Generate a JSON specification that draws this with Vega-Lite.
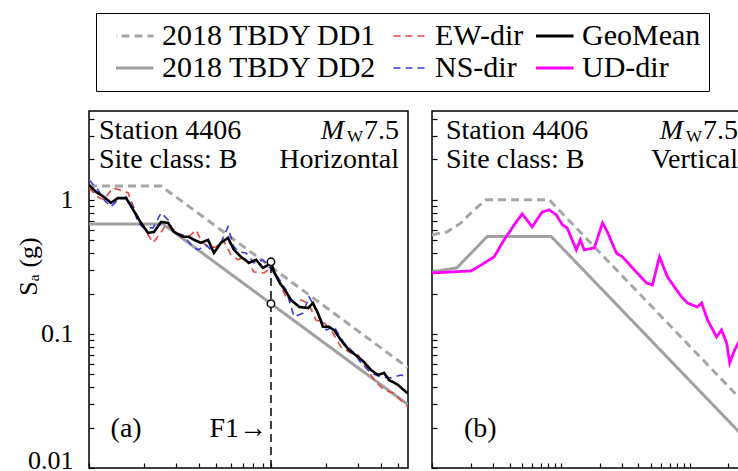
{
"$schema": "https://vega.github.io/schema/vega-lite/v6.json",
"padding": {"left": 14, "top": 12, "right": 0, "bottom": 0},
"background": "white",
"spacing": 21,
"config": {
 "font": "Liberation Serif",
 "view": {"stroke": "black", "strokeWidth": 1.5},
 "axis": {"domain": false, "grid": false, "tickColor": "black", "tickWidth": 1.2, "tickSize": -5, "labelFont": "Liberation Serif", "labelFontSize": 26, "labelColor": "black", "titleFont": "Liberation Serif", "titleFontSize": 26, "titleFontWeight": "normal", "titleColor": "black"},
 "legend": {"orient": "none", "legendX": 7, "legendY": -98, "columns": 3, "direction": "horizontal", "titleOrient": "left", "titleFontSize": 4, "titlePadding": 12, "labelFont": "Liberation Serif", "labelFontSize": 30, "labelColor": "black", "labelLimit": 400, "symbolType": "stroke", "symbolSize": 2025, "clipHeight": 30, "labelOffset": 16, "columnPadding": 12, "rowPadding": 2, "padding": 8, "strokeColor": "black", "fillColor": "white", "cornerRadius": 0}
},
"datasets": {
 "spectra": [
  {"panel":"H","series":"2018 TBDY DD1","T":0.1,"Sa":1.27},
  {"panel":"H","series":"2018 TBDY DD1","T":0.249,"Sa":1.27},
  {"panel":"H","series":"2018 TBDY DD1","T":5.66,"Sa":0.0559},
  {"panel":"H","series":"2018 TBDY DD2","T":0.1,"Sa":0.66},
  {"panel":"H","series":"2018 TBDY DD2","T":0.255,"Sa":0.66},
  {"panel":"H","series":"2018 TBDY DD2","T":5.66,"Sa":0.0297},
  {"panel":"H","series":"EW-dir","T":0.100,"Sa":1.23},
  {"panel":"H","series":"EW-dir","T":0.112,"Sa":1.05},
  {"panel":"H","series":"EW-dir","T":0.121,"Sa":1.00},
  {"panel":"H","series":"EW-dir","T":0.135,"Sa":1.23},
  {"panel":"H","series":"EW-dir","T":0.146,"Sa":1.19},
  {"panel":"H","series":"EW-dir","T":0.164,"Sa":1.13},
  {"panel":"H","series":"EW-dir","T":0.181,"Sa":0.800},
  {"panel":"H","series":"EW-dir","T":0.200,"Sa":0.618},
  {"panel":"H","series":"EW-dir","T":0.225,"Sa":0.478},
  {"panel":"H","series":"EW-dir","T":0.243,"Sa":0.548},
  {"panel":"H","series":"EW-dir","T":0.265,"Sa":0.651},
  {"panel":"H","series":"EW-dir","T":0.293,"Sa":0.597},
  {"panel":"H","series":"EW-dir","T":0.328,"Sa":0.520},
  {"panel":"H","series":"EW-dir","T":0.363,"Sa":0.548},
  {"panel":"H","series":"EW-dir","T":0.387,"Sa":0.597},
  {"panel":"H","series":"EW-dir","T":0.412,"Sa":0.503},
  {"panel":"H","series":"EW-dir","T":0.451,"Sa":0.438},
  {"panel":"H","series":"EW-dir","T":0.499,"Sa":0.446},
  {"panel":"H","series":"EW-dir","T":0.545,"Sa":0.503},
  {"panel":"H","series":"EW-dir","T":0.603,"Sa":0.389},
  {"panel":"H","series":"EW-dir","T":0.659,"Sa":0.357},
  {"panel":"H","series":"EW-dir","T":0.711,"Sa":0.376},
  {"panel":"H","series":"EW-dir","T":0.807,"Sa":0.290},
  {"panel":"H","series":"EW-dir","T":0.916,"Sa":0.285},
  {"panel":"H","series":"EW-dir","T":1.00,"Sa":0.311},
  {"panel":"H","series":"EW-dir","T":1.09,"Sa":0.253},
  {"panel":"H","series":"EW-dir","T":1.21,"Sa":0.189},
  {"panel":"H","series":"EW-dir","T":1.34,"Sa":0.170},
  {"panel":"H","series":"EW-dir","T":1.46,"Sa":0.179},
  {"panel":"H","series":"EW-dir","T":1.60,"Sa":0.170},
  {"panel":"H","series":"EW-dir","T":1.77,"Sa":0.127},
  {"panel":"H","series":"EW-dir","T":1.96,"Sa":0.121},
  {"panel":"H","series":"EW-dir","T":2.14,"Sa":0.107},
  {"panel":"H","series":"EW-dir","T":2.42,"Sa":0.080},
  {"panel":"H","series":"EW-dir","T":2.75,"Sa":0.0722},
  {"panel":"H","series":"EW-dir","T":3.01,"Sa":0.0697},
  {"panel":"H","series":"EW-dir","T":3.33,"Sa":0.0567},
  {"panel":"H","series":"EW-dir","T":3.68,"Sa":0.0454},
  {"panel":"H","series":"EW-dir","T":4.18,"Sa":0.0382},
  {"panel":"H","series":"EW-dir","T":4.68,"Sa":0.0363},
  {"panel":"H","series":"EW-dir","T":5.52,"Sa":0.0295},
  {"panel":"H","series":"EW-dir","T":5.66,"Sa":0.0285},
  {"panel":"H","series":"NS-dir","T":0.100,"Sa":1.41},
  {"panel":"H","series":"NS-dir","T":0.112,"Sa":1.19},
  {"panel":"H","series":"NS-dir","T":0.121,"Sa":1.00},
  {"panel":"H","series":"NS-dir","T":0.132,"Sa":0.887},
  {"panel":"H","series":"NS-dir","T":0.144,"Sa":1.00},
  {"panel":"H","series":"NS-dir","T":0.160,"Sa":1.05},
  {"panel":"H","series":"NS-dir","T":0.175,"Sa":0.887},
  {"panel":"H","series":"NS-dir","T":0.186,"Sa":0.673},
  {"panel":"H","series":"NS-dir","T":0.200,"Sa":0.618},
  {"panel":"H","series":"NS-dir","T":0.225,"Sa":0.618},
  {"panel":"H","series":"NS-dir","T":0.249,"Sa":0.800},
  {"panel":"H","series":"NS-dir","T":0.272,"Sa":0.709},
  {"panel":"H","series":"NS-dir","T":0.293,"Sa":0.567},
  {"panel":"H","series":"NS-dir","T":0.328,"Sa":0.548},
  {"panel":"H","series":"NS-dir","T":0.373,"Sa":0.446},
  {"panel":"H","series":"NS-dir","T":0.397,"Sa":0.424},
  {"panel":"H","series":"NS-dir","T":0.440,"Sa":0.462},
  {"panel":"H","series":"NS-dir","T":0.486,"Sa":0.402},
  {"panel":"H","series":"NS-dir","T":0.531,"Sa":0.478},
  {"panel":"H","series":"NS-dir","T":0.580,"Sa":0.629},
  {"panel":"H","series":"NS-dir","T":0.626,"Sa":0.446},
  {"panel":"H","series":"NS-dir","T":0.667,"Sa":0.409},
  {"panel":"H","series":"NS-dir","T":0.729,"Sa":0.402},
  {"panel":"H","series":"NS-dir","T":0.807,"Sa":0.339},
  {"panel":"H","series":"NS-dir","T":0.904,"Sa":0.357},
  {"panel":"H","series":"NS-dir","T":0.975,"Sa":0.316},
  {"panel":"H","series":"NS-dir","T":1.09,"Sa":0.266},
  {"panel":"H","series":"NS-dir","T":1.21,"Sa":0.213},
  {"panel":"H","series":"NS-dir","T":1.34,"Sa":0.134},
  {"panel":"H","series":"NS-dir","T":1.50,"Sa":0.143},
  {"panel":"H","series":"NS-dir","T":1.62,"Sa":0.189},
  {"panel":"H","series":"NS-dir","T":1.81,"Sa":0.143},
  {"panel":"H","series":"NS-dir","T":2.01,"Sa":0.107},
  {"panel":"H","series":"NS-dir","T":2.22,"Sa":0.113},
  {"panel":"H","series":"NS-dir","T":2.52,"Sa":0.0857},
  {"panel":"H","series":"NS-dir","T":2.86,"Sa":0.0722},
  {"panel":"H","series":"NS-dir","T":3.12,"Sa":0.0608},
  {"panel":"H","series":"NS-dir","T":3.54,"Sa":0.0512},
  {"panel":"H","series":"NS-dir","T":4.02,"Sa":0.0478},
  {"panel":"H","series":"NS-dir","T":4.57,"Sa":0.0470},
  {"panel":"H","series":"NS-dir","T":5.18,"Sa":0.0494},
  {"panel":"H","series":"NS-dir","T":5.66,"Sa":0.0478},
  {"panel":"H","series":"GeoMean","T":0.100,"Sa":1.29},
  {"panel":"H","series":"GeoMean","T":0.109,"Sa":1.15},
  {"panel":"H","series":"GeoMean","T":0.121,"Sa":1.05},
  {"panel":"H","series":"GeoMean","T":0.132,"Sa":0.950},
  {"panel":"H","series":"GeoMean","T":0.144,"Sa":1.03},
  {"panel":"H","series":"GeoMean","T":0.160,"Sa":1.03},
  {"panel":"H","series":"GeoMean","T":0.175,"Sa":0.842},
  {"panel":"H","series":"GeoMean","T":0.193,"Sa":0.673},
  {"panel":"H","series":"GeoMean","T":0.211,"Sa":0.567},
  {"panel":"H","series":"GeoMean","T":0.228,"Sa":0.577},
  {"panel":"H","series":"GeoMean","T":0.249,"Sa":0.685},
  {"panel":"H","series":"GeoMean","T":0.272,"Sa":0.673},
  {"panel":"H","series":"GeoMean","T":0.293,"Sa":0.577},
  {"panel":"H","series":"GeoMean","T":0.328,"Sa":0.530},
  {"panel":"H","series":"GeoMean","T":0.354,"Sa":0.530},
  {"panel":"H","series":"GeoMean","T":0.378,"Sa":0.503},
  {"panel":"H","series":"GeoMean","T":0.412,"Sa":0.478},
  {"panel":"H","series":"GeoMean","T":0.451,"Sa":0.503},
  {"panel":"H","series":"GeoMean","T":0.486,"Sa":0.402},
  {"panel":"H","series":"GeoMean","T":0.531,"Sa":0.478},
  {"panel":"H","series":"GeoMean","T":0.580,"Sa":0.520},
  {"panel":"H","series":"GeoMean","T":0.626,"Sa":0.424},
  {"panel":"H","series":"GeoMean","T":0.684,"Sa":0.376},
  {"panel":"H","series":"GeoMean","T":0.757,"Sa":0.339},
  {"panel":"H","series":"GeoMean","T":0.828,"Sa":0.357},
  {"panel":"H","series":"GeoMean","T":0.904,"Sa":0.311},
  {"panel":"H","series":"GeoMean","T":0.963,"Sa":0.327},
  {"panel":"H","series":"GeoMean","T":1.00,"Sa":0.345},
  {"panel":"H","series":"GeoMean","T":1.04,"Sa":0.290},
  {"panel":"H","series":"GeoMean","T":1.11,"Sa":0.244},
  {"panel":"H","series":"GeoMean","T":1.21,"Sa":0.206},
  {"panel":"H","series":"GeoMean","T":1.29,"Sa":0.179},
  {"panel":"H","series":"GeoMean","T":1.43,"Sa":0.159},
  {"panel":"H","series":"GeoMean","T":1.60,"Sa":0.156},
  {"panel":"H","series":"GeoMean","T":1.70,"Sa":0.170},
  {"panel":"H","series":"GeoMean","T":1.81,"Sa":0.143},
  {"panel":"H","series":"GeoMean","T":1.93,"Sa":0.113},
  {"panel":"H","series":"GeoMean","T":2.08,"Sa":0.113},
  {"panel":"H","series":"GeoMean","T":2.22,"Sa":0.107},
  {"panel":"H","series":"GeoMean","T":2.42,"Sa":0.090},
  {"panel":"H","series":"GeoMean","T":2.68,"Sa":0.076},
  {"panel":"H","series":"GeoMean","T":3.01,"Sa":0.0673},
  {"panel":"H","series":"GeoMean","T":3.24,"Sa":0.0618},
  {"panel":"H","series":"GeoMean","T":3.54,"Sa":0.0539},
  {"panel":"H","series":"GeoMean","T":3.87,"Sa":0.0494},
  {"panel":"H","series":"GeoMean","T":4.18,"Sa":0.0512},
  {"panel":"H","series":"GeoMean","T":4.45,"Sa":0.0454},
  {"panel":"H","series":"GeoMean","T":4.99,"Sa":0.0416},
  {"panel":"H","series":"GeoMean","T":5.52,"Sa":0.0369},
  {"panel":"H","series":"GeoMean","T":5.66,"Sa":0.0360},
  {"panel":"V","series":"2018 TBDY DD1","T":0.01,"Sa":0.548},
  {"panel":"V","series":"2018 TBDY DD1","T":0.0131,"Sa":0.577},
  {"panel":"V","series":"2018 TBDY DD1","T":0.0168,"Sa":0.673},
  {"panel":"V","series":"2018 TBDY DD1","T":0.0212,"Sa":0.842},
  {"panel":"V","series":"2018 TBDY DD1","T":0.0263,"Sa":1.0},
  {"panel":"V","series":"2018 TBDY DD1","T":0.0814,"Sa":1.0},
  {"panel":"V","series":"2018 TBDY DD1","T":3.0,"Sa":0.0271},
  {"panel":"V","series":"2018 TBDY DD2","T":0.01,"Sa":0.29},
  {"panel":"V","series":"2018 TBDY DD2","T":0.0156,"Sa":0.311},
  {"panel":"V","series":"2018 TBDY DD2","T":0.0268,"Sa":0.532},
  {"panel":"V","series":"2018 TBDY DD2","T":0.0844,"Sa":0.532},
  {"panel":"V","series":"2018 TBDY DD2","T":3.0,"Sa":0.0150},
  {"panel":"V","series":"UD-dir","T":0.0100,"Sa":0.285},
  {"panel":"V","series":"UD-dir","T":0.0201,"Sa":0.295},
  {"panel":"V","series":"UD-dir","T":0.0241,"Sa":0.327},
  {"panel":"V","series":"UD-dir","T":0.0304,"Sa":0.376},
  {"panel":"V","series":"UD-dir","T":0.0363,"Sa":0.503},
  {"panel":"V","series":"UD-dir","T":0.0435,"Sa":0.651},
  {"panel":"V","series":"UD-dir","T":0.0501,"Sa":0.786},
  {"panel":"V","series":"UD-dir","T":0.0600,"Sa":0.629},
  {"panel":"V","series":"UD-dir","T":0.0718,"Sa":0.814},
  {"panel":"V","series":"UD-dir","T":0.0814,"Sa":0.842},
  {"panel":"V","series":"UD-dir","T":0.0923,"Sa":0.773},
  {"panel":"V","series":"UD-dir","T":0.103,"Sa":0.651},
  {"panel":"V","series":"UD-dir","T":0.112,"Sa":0.618},
  {"panel":"V","series":"UD-dir","T":0.132,"Sa":0.424},
  {"panel":"V","series":"UD-dir","T":0.142,"Sa":0.503},
  {"panel":"V","series":"UD-dir","T":0.152,"Sa":0.424},
  {"panel":"V","series":"UD-dir","T":0.182,"Sa":0.438},
  {"panel":"V","series":"UD-dir","T":0.211,"Sa":0.673},
  {"panel":"V","series":"UD-dir","T":0.230,"Sa":0.577},
  {"panel":"V","series":"UD-dir","T":0.270,"Sa":0.402},
  {"panel":"V","series":"UD-dir","T":0.301,"Sa":0.376},
  {"panel":"V","series":"UD-dir","T":0.373,"Sa":0.300},
  {"panel":"V","series":"UD-dir","T":0.463,"Sa":0.240},
  {"panel":"V","series":"UD-dir","T":0.515,"Sa":0.232},
  {"panel":"V","series":"UD-dir","T":0.584,"Sa":0.376},
  {"panel":"V","series":"UD-dir","T":0.674,"Sa":0.266},
  {"panel":"V","series":"UD-dir","T":0.764,"Sa":0.224},
  {"panel":"V","series":"UD-dir","T":0.866,"Sa":0.189},
  {"panel":"V","series":"UD-dir","T":0.964,"Sa":0.170},
  {"panel":"V","series":"UD-dir","T":1.15,"Sa":0.159},
  {"panel":"V","series":"UD-dir","T":1.24,"Sa":0.170},
  {"panel":"V","series":"UD-dir","T":1.38,"Sa":0.127},
  {"panel":"V","series":"UD-dir","T":1.62,"Sa":0.095},
  {"panel":"V","series":"UD-dir","T":1.77,"Sa":0.107},
  {"panel":"V","series":"UD-dir","T":1.94,"Sa":0.0857},
  {"panel":"V","series":"UD-dir","T":2.05,"Sa":0.0608},
  {"panel":"V","series":"UD-dir","T":2.24,"Sa":0.076},
  {"panel":"V","series":"UD-dir","T":2.58,"Sa":0.098}
 ]
},
"hconcat": [
 {
  "width": 319, "height": 357,
  "layer": [
   {
    "data": {"name": "spectra"},
    "transform": [{"filter": "datum.panel == 'H' && indexof(datum.series, 'TBDY') >= 0"}],
    "mark": {"type": "line", "clip": true, "strokeWidth": 3},
    "encoding": {
     "x": {"field": "T", "type": "quantitative", "scale": {"type": "log", "domain": [0.1, 5.66], "nice": false}, "axis": {"values": [0.1,0.2,0.3,0.4,0.5,0.6,0.7,0.8,0.9,1,2,3,4,5], "labels": false, "title": null}},
     "y": {"field": "Sa", "type": "quantitative", "scale": {"type": "log", "domain": [0.01, 4.6], "nice": false}, "axis": {"values": [0.01,0.02,0.03,0.04,0.05,0.06,0.07,0.08,0.09,0.1,0.2,0.3,0.4,0.5,0.6,0.7,0.8,0.9,1,2,3,4], "labelExpr": "datum.value == 1 ? '1' : datum.value == 0.1 ? '0.1' : datum.value == 0.01 ? '0.01' : ''", "labelFont": "Liberation Serif", "labelFontSize": 26, "labelBaseline": {"condition": {"test": "datum.value == 0.01", "value": "alphabetic"}, "value": "middle"}, "labelPadding": 21, "title": "Sₐ (g)", "titleFont": "Liberation Serif", "titleX": -61, "titleY": 155, "titleAngle": -90, "titleBaseline": "middle", "titleAlign": "center"}},
     "color": {"field": "series", "type": "nominal", "title": " ", "scale": {"domain": ["2018 TBDY DD1","EW-dir","GeoMean","2018 TBDY DD2","NS-dir","UD-dir"], "range": ["#a6a6a6","#e8463c","#000000","#a0a0a0","#3c3ce6","#ff00ff"]}, "legend": {"encode": {"symbols": {"update": {"strokeWidth": {"signal": "datum.value == 'EW-dir' || datum.value == 'NS-dir' ? 1.6 : 3.2"}}}}}},
     "strokeDash": {"field": "series", "type": "nominal", "title": " ", "scale": {"domain": ["2018 TBDY DD1","EW-dir","GeoMean","2018 TBDY DD2","NS-dir","UD-dir"], "range": [[8,5],[7,5],[1,0],[1,0],[7,5],[1,0]]}}
    }
   },
   {
    "data": {"name": "spectra"},
    "transform": [{"filter": "datum.panel == 'H' && (datum.series == 'EW-dir' || datum.series == 'NS-dir')"}],
    "mark": {"type": "line", "clip": true, "strokeWidth": 1.6},
    "encoding": {
     "x": {"field": "T", "type": "quantitative"},
     "y": {"field": "Sa", "type": "quantitative"},
     "color": {"field": "series", "type": "nominal", "title": " "},
     "strokeDash": {"field": "series", "type": "nominal", "title": " "}
    }
   },
   {
    "data": {"name": "spectra"},
    "transform": [{"filter": "datum.panel == 'H' && datum.series == 'GeoMean'"}],
    "mark": {"type": "line", "clip": true, "strokeWidth": 2.6},
    "encoding": {
     "x": {"field": "T", "type": "quantitative"},
     "y": {"field": "Sa", "type": "quantitative"},
     "color": {"field": "series", "type": "nominal", "title": " "},
     "strokeDash": {"field": "series", "type": "nominal", "title": " "}
    }
   },
   {
    "data": {"values": [{"T": 1, "lo": 0.01, "hi": 0.345}]},
    "mark": {"type": "rule", "color": "black", "strokeWidth": 1.5, "strokeDash": [8,5]},
    "encoding": {"x": {"field": "T", "type": "quantitative"}, "y": {"field": "lo", "type": "quantitative"}, "y2": {"field": "hi"}}
   },
   {
    "data": {"values": [{"T": 1, "Sa": 0.345}, {"T": 1, "Sa": 0.168}]},
    "mark": {"type": "point", "shape": "circle", "filled": true, "fill": "white", "stroke": "black", "strokeWidth": 1.5, "size": 55, "opacity": 1},
    "encoding": {"x": {"field": "T", "type": "quantitative"}, "y": {"field": "Sa", "type": "quantitative"}}
   },
   {
    "data": {"values": [{"T": 0.1, "Sa": 3.27, "text": "Station 4406"}, {"T": 0.1, "Sa": 1.99, "text": "Site class: B"}]},
    "mark": {"type": "text", "align": "left", "baseline": "middle", "dx": 10, "fontSize": 28, "font": "Liberation Serif", "color": "black"},
    "encoding": {"x": {"field": "T", "type": "quantitative"}, "y": {"field": "Sa", "type": "quantitative"}, "text": {"field": "text"}}
   },
   {
    "data": {"values": [{"T": 5.66, "Sa": 1.99, "text": "Horizontal"}, {"T": 5.66, "Sa": 3.27, "text": "7.5"}]},
    "mark": {"type": "text", "align": "right", "baseline": "middle", "dx": -9, "fontSize": 28, "font": "Liberation Serif", "color": "black"},
    "encoding": {"x": {"field": "T", "type": "quantitative"}, "y": {"field": "Sa", "type": "quantitative"}, "text": {"field": "text"}}
   },
   {
    "data": {"values": [{"T": 5.66, "Sa": 3.27, "text": "W"}]},
    "mark": {"type": "text", "align": "right", "baseline": "middle", "dx": -45, "dy": 6, "fontSize": 17, "font": "Liberation Serif", "color": "black"},
    "encoding": {"x": {"field": "T", "type": "quantitative"}, "y": {"field": "Sa", "type": "quantitative"}, "text": {"field": "text"}}
   },
   {
    "data": {"values": [{"T": 5.66, "Sa": 3.27, "text": "M"}]},
    "mark": {"type": "text", "align": "right", "baseline": "middle", "dx": -64, "fontSize": 28, "font": "Liberation Serif", "fontStyle": "italic", "color": "black"},
    "encoding": {"x": {"field": "T", "type": "quantitative"}, "y": {"field": "Sa", "type": "quantitative"}, "text": {"field": "text"}}
   },
   {
    "data": {"values": [{"T": 0.16, "Sa": 0.0195, "text": "(a)"}]},
    "mark": {"type": "text", "align": "center", "baseline": "middle", "fontSize": 28, "font": "Liberation Serif", "color": "black"},
    "encoding": {"x": {"field": "T", "type": "quantitative"}, "y": {"field": "Sa", "type": "quantitative"}, "text": {"field": "text"}}
   },
   {
    "data": {"values": [{"T": 1, "Sa": 0.0195, "text": "F1→"}]},
    "mark": {"type": "text", "align": "right", "baseline": "middle", "dx": -4, "fontSize": 28, "font": "Liberation Serif", "color": "black"},
    "encoding": {"x": {"field": "T", "type": "quantitative"}, "y": {"field": "Sa", "type": "quantitative"}, "text": {"field": "text"}}
   }
  ]
 },
 {
  "width": 319, "height": 357,
  "layer": [
   {
    "data": {"name": "spectra"},
    "transform": [{"filter": "datum.panel == 'V' && indexof(datum.series, 'TBDY') >= 0"}],
    "mark": {"type": "line", "clip": true, "strokeWidth": 3},
    "encoding": {
     "x": {"field": "T", "type": "quantitative", "scale": {"type": "log", "domain": [0.01, 3.0], "nice": false}, "axis": {"values": [0.01,0.02,0.03,0.04,0.05,0.06,0.07,0.08,0.09,0.1,0.2,0.3,0.4,0.5,0.6,0.7,0.8,0.9,1,2,3], "labels": false, "title": null}},
     "y": {"field": "Sa", "type": "quantitative", "scale": {"type": "log", "domain": [0.01, 4.6], "nice": false}, "axis": {"values": [0.01,0.02,0.03,0.04,0.05,0.06,0.07,0.08,0.09,0.1,0.2,0.3,0.4,0.5,0.6,0.7,0.8,0.9,1,2,3,4], "labels": false, "title": null}},
     "color": {"field": "series", "type": "nominal", "title": " "},
     "strokeDash": {"field": "series", "type": "nominal", "title": " "}
    }
   },
   {
    "data": {"name": "spectra"},
    "transform": [{"filter": "datum.panel == 'V' && datum.series == 'UD-dir'"}],
    "mark": {"type": "line", "clip": true, "strokeWidth": 2.8},
    "encoding": {
     "x": {"field": "T", "type": "quantitative"},
     "y": {"field": "Sa", "type": "quantitative"},
     "color": {"field": "series", "type": "nominal", "title": " "},
     "strokeDash": {"field": "series", "type": "nominal", "title": " "}
    }
   },
   {
    "data": {"values": [{"T": 0.01, "Sa": 3.27, "text": "Station 4406"}, {"T": 0.01, "Sa": 1.99, "text": "Site class: B"}]},
    "mark": {"type": "text", "align": "left", "baseline": "middle", "dx": 14, "fontSize": 28, "font": "Liberation Serif", "color": "black"},
    "encoding": {"x": {"field": "T", "type": "quantitative"}, "y": {"field": "Sa", "type": "quantitative"}, "text": {"field": "text"}}
   },
   {
    "data": {"values": [{"T": 3.0, "Sa": 1.99, "text": "Vertical"}, {"T": 3.0, "Sa": 3.27, "text": "7.5"}]},
    "mark": {"type": "text", "align": "right", "baseline": "middle", "dx": -13, "fontSize": 28, "font": "Liberation Serif", "color": "black"},
    "encoding": {"x": {"field": "T", "type": "quantitative"}, "y": {"field": "Sa", "type": "quantitative"}, "text": {"field": "text"}}
   },
   {
    "data": {"values": [{"T": 3.0, "Sa": 3.27, "text": "W"}]},
    "mark": {"type": "text", "align": "right", "baseline": "middle", "dx": -49, "dy": 6, "fontSize": 17, "font": "Liberation Serif", "color": "black"},
    "encoding": {"x": {"field": "T", "type": "quantitative"}, "y": {"field": "Sa", "type": "quantitative"}, "text": {"field": "text"}}
   },
   {
    "data": {"values": [{"T": 3.0, "Sa": 3.27, "text": "M"}]},
    "mark": {"type": "text", "align": "right", "baseline": "middle", "dx": -68, "fontSize": 28, "font": "Liberation Serif", "fontStyle": "italic", "color": "black"},
    "encoding": {"x": {"field": "T", "type": "quantitative"}, "y": {"field": "Sa", "type": "quantitative"}, "text": {"field": "text"}}
   },
   {
    "data": {"values": [{"T": 0.0237, "Sa": 0.0195, "text": "(b)"}]},
    "mark": {"type": "text", "align": "center", "baseline": "middle", "fontSize": 28, "font": "Liberation Serif", "color": "black"},
    "encoding": {"x": {"field": "T", "type": "quantitative"}, "y": {"field": "Sa", "type": "quantitative"}, "text": {"field": "text"}}
   }
  ]
 }
]
}
